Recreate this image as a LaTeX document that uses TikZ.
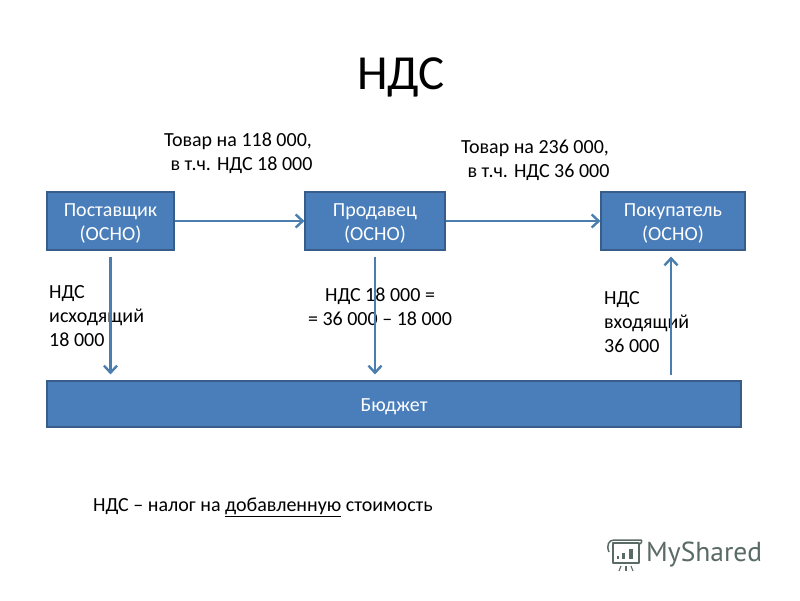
\documentclass[tikz,border=0pt]{standalone}
\usepackage{fontspec}
\setmainfont{Carlito}
\newfontfamily\logofont{PT Sans}
\definecolor{boxfill}{HTML}{4A7EBB}
\definecolor{boxedge}{HTML}{385D8A}
\definecolor{arrowc}{HTML}{4A7EAF}
\definecolor{logoc}{HTML}{5A6A65}
\usetikzlibrary{arrows.meta}
\newcommand{\dnstrut}{\rule{0pt}{18pt}}
\tikzset{
  x=1pt,y=-1pt,
  blockbox/.style={draw=boxedge,line width=1.6pt,fill=boxfill,text=white,align=center,inner sep=0pt,
    font=\fontsize{20}{24}\selectfont},
  flow/.style={draw=arrowc,line width=2.6pt,-{Straight Barb[length=7pt,width=13pt,line width=2.4pt]}},
  caption/.style={align=center,inner sep=0pt,text=black,font=\fontsize{20}{24}\selectfont},
  captionl/.style={caption,align=left,anchor=north west},
  logoline/.style={draw=logoc,line width=1.5pt}
}
\begin{document}
\begin{tikzpicture}
\useasboundingbox (0,0) rectangle (800,600);
\fill[white] (0,0) rectangle (800,600);
\node[inner sep=0pt,font=\fontsize{49}{60}\selectfont] (title) at (401,77) {НДС};

\node[blockbox,minimum width=126.5pt,minimum height=57.5pt] (post) at (110.5,221) {\dnstrut Поставщик\\(ОСНО)};
\node[blockbox,minimum width=139.5pt,minimum height=57.5pt] (prod) at (375,221) {\dnstrut Продавец\\(ОСНО)};
\node[blockbox,minimum width=143.5pt,minimum height=57.5pt] (pok) at (673,221) {\dnstrut Покупатель\\(ОСНО)};
\node[blockbox,minimum width=693.5pt,minimum height=45.5pt] (bud) at (394,404) {\dnstrut Бюджет};

\node[caption] (t1) at (238,153) {Товар на 118 000,\\\hspace*{7pt}в т.ч. НДС 18 000};
\node[caption] (t2) at (535,160) {Товар на 236 000,\\\hspace*{7pt}в т.ч. НДС 36 000};
\node[captionl] (t3) at (49,285) {НДС\\исходящий\\18 000};
\node[caption] (t4) at (380,307) {НДС 18 000 =\\= 36 000 – 18 000};
\node[captionl] (t5) at (604,291) {НДС\\входящий\\36 000};
\node[anchor=west,inner sep=0pt,font=\fontsize{20}{24}\selectfont] (t6) at (93,507) {НДС – налог на \underline{добавленную} стоимость};

\draw[flow] (post.east) -- (prod.west);
\draw[flow] (prod.east) -- (pok.west);
\draw[flow,shorten <=6pt,shorten >=6pt] (post.south) -- (post.south |- bud.north);
\draw[flow,shorten <=6pt,shorten >=6pt] (prod.south) -- (prod.south |- bud.north);
\coordinate (upfoot) at (671,381);
\draw[flow,shorten <=6pt,shorten >=6pt] (upfoot) -- (upfoot |- pok.south);

% logo
\draw[logoline,line join=round] (613,563) -- (613,543) -- (639,543) -- (639,563) -- cycle;
\draw[logoline,line join=round] (609,552) .. controls (606,545) and (609,540) .. (614,540) -- (641,540) .. controls (642,540) and (642,544) .. (639,544);
\fill[logoc] (617,556) rectangle (619,559);
\fill[logoc] (622,553) rectangle (625,559);
\fill[logoc] (629,549) rectangle (633,559);
\draw[logoline,line width=1.1pt] (621,566) -- (619,571);
\draw[logoline,line width=1.1pt] (626,566) -- (626,571);
\draw[logoline,line width=1.1pt] (631,566) -- (633,571);
\node[anchor=west,inner sep=0pt,text=logoc,font=\logofont\fontsize{27.5}{34}\selectfont] (logo) at (646,555) {MyShared};
\end{tikzpicture}
\end{document}
